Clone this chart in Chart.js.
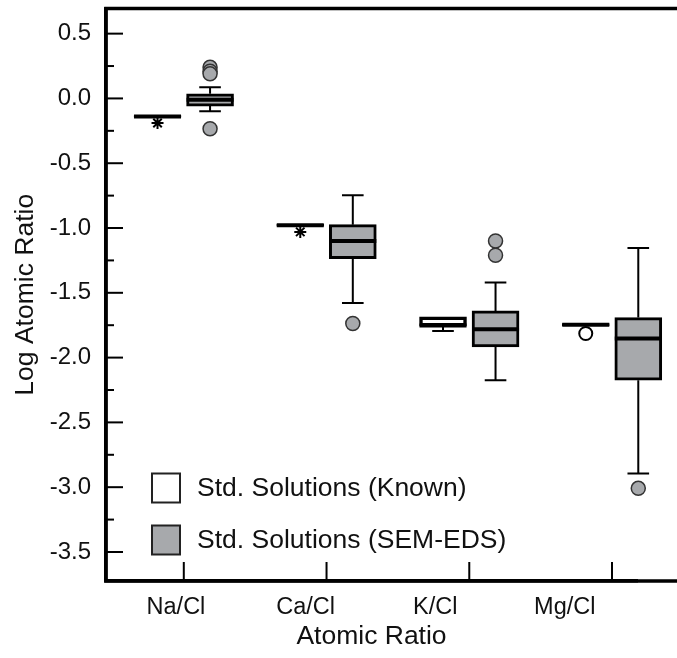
<!DOCTYPE html>
<html><head><meta charset="utf-8">
<script src="https://cdn.jsdelivr.net/npm/chart.js@4/dist/chart.umd.min.js"></script>
<style>html,body{margin:0;padding:0;background:#fff;overflow:hidden}</style>
</head><body>
<canvas id="c" width="677" height="658"></canvas>
<script>
// ---- data ----
const CATEGORIES = ['Na/Cl', 'Ca/Cl', 'K/Cl', 'Mg/Cl'];
const Y_TICKS = [-3.5, -3.0, -2.5, -2.0, -1.5, -1.0, -0.5, 0.0, 0.5];
const SERIES_NAMES = ['Std. Solutions (Known)', 'Std. Solutions (SEM-EDS)'];

// Std. Solutions (Known)
const KNOWN_Q1  = [-0.145, -0.985, -1.758, -1.754];
const KNOWN_Q3  = [-0.133, -0.972, -1.686, -1.738];
const KNOWN_MED = [-0.139, -0.979, -1.753, -1.746];
const KNOWN_WLO = [-0.145, -0.985, -1.794, -1.754];
const KNOWN_WHI = [-0.133, -0.972, -1.686, -1.738];
const KNOWN_STAR = [-0.19, -1.03, null, null];
const KNOWN_OPEN = [null, null, null, -1.814];

// Std. Solutions (SEM-EDS)
const SEM_Q1  = [-0.059, -1.236, -1.917, -2.174];
const SEM_Q3  = [0.036, -0.974, -1.640, -1.691];
const SEM_MED = [-0.010, -1.100, -1.781, -1.853];
const SEM_WLO = [-0.098, -1.578, -2.174, -2.894];
const SEM_WHI = [0.087, -0.748, -1.421, -1.154];
const SEM_OUT = [[0.24, 0.21, 0.19, -0.234], [-1.737], [-1.10, -1.21], [-3.009, -3.061]];

// ---- layout / style constants ----
const OFFSET = 0.184;           // half distance between paired boxes (x units)
const LABEL_X0 = 0.945, LABEL_DX = 0.908; // category label placement (x units)
const GRAY = '#a7a9ac';
const FONT = "'Liberation Sans', Arial, sans-serif";

Chart.defaults.font.family = FONT;
Chart.defaults.color = '#111';

const pos = (i, side) => i + 1 + side * OFFSET;

const knownBars = CATEGORIES.map((c, i) => ({x: pos(i, -1), y: [KNOWN_Q1[i], KNOWN_Q3[i]]}));
const semBars = CATEGORIES.map((c, i) => ({x: pos(i, 1), y: [SEM_Q1[i], SEM_Q3[i]]}));
const semOutPts = SEM_OUT.flatMap((arr, i) => arr.map(v => ({x: pos(i, 1), y: v})));
const knownStarPts = KNOWN_STAR.map((v, i) => v === null ? null : {x: pos(i, -1), y: v}).filter(Boolean);
const knownOpenPts = KNOWN_OPEN.map((v, i) => v === null ? null : {x: pos(i, -1), y: v}).filter(Boolean);

const STATS = [
  {med: KNOWN_MED, lo: KNOWN_WLO, hi: KNOWN_WHI, q1: KNOWN_Q1, q3: KNOWN_Q3},
  {med: SEM_MED, lo: SEM_WLO, hi: SEM_WHI, q1: SEM_Q1, q3: SEM_Q3}
];

const boxPlugin = {
  id: 'boxDecor',
  afterDatasetsDraw(chart) {
    const {ctx, scales: {y}} = chart;
    ctx.save();
    ctx.strokeStyle = '#000';
    ctx.lineCap = 'butt';
    [0, 1].forEach(d => {
      const meta = chart.getDatasetMeta(d);
      const s = STATS[d];
      meta.data.forEach((bar, i) => {
        const cx = bar.x, hw = bar.width / 2, cap = bar.width * 0.23;
        const yTop = y.getPixelForValue(s.q3[i]);
        const yBot = y.getPixelForValue(s.q1[i]);
        ctx.lineWidth = 2;
        if (s.hi[i] > s.q3[i]) {
          const yh = y.getPixelForValue(s.hi[i]);
          ctx.beginPath(); ctx.moveTo(cx, yTop); ctx.lineTo(cx, yh);
          ctx.moveTo(cx - cap, yh); ctx.lineTo(cx + cap, yh); ctx.stroke();
        }
        if (s.lo[i] < s.q1[i]) {
          const yl = y.getPixelForValue(s.lo[i]);
          ctx.beginPath(); ctx.moveTo(cx, yBot); ctx.lineTo(cx, yl);
          ctx.moveTo(cx - cap, yl); ctx.lineTo(cx + cap, yl); ctx.stroke();
        }
        ctx.lineWidth = 4;
        const ym = y.getPixelForValue(s.med[i]);
        ctx.beginPath(); ctx.moveTo(cx - hw, ym); ctx.lineTo(cx + hw, ym); ctx.stroke();
      });
    });
    ctx.restore();
  },
  afterDraw(chart) {
    const {ctx, chartArea: a, scales: {x, y}, width} = chart;
    ctx.save();
    ctx.strokeStyle = '#000';
    // frame (top and bottom run to the right edge)
    ctx.lineWidth = 3.5;
    ctx.beginPath();
    ctx.moveTo(a.left - 1.75, a.top); ctx.lineTo(width, a.top);
    ctx.moveTo(a.left - 1.75, a.bottom); ctx.lineTo(width, a.bottom);
    ctx.moveTo(a.left, a.top - 1.75); ctx.lineTo(a.left, a.bottom + 1.75);
    ctx.stroke();
    // inward y ticks: major + minor
    ctx.lineWidth = 2;
    Y_TICKS.forEach(v => {
      const py = y.getPixelForValue(v);
      ctx.beginPath(); ctx.moveTo(a.left, py); ctx.lineTo(a.left + 17, py); ctx.stroke();
    });
    const minors = [Y_TICKS[0] - 0.25].concat(Y_TICKS.map(v => v + 0.25));
    minors.forEach(mv => {
      if (mv > y.min && mv < y.max) {
        const pm = y.getPixelForValue(mv);
        ctx.beginPath(); ctx.moveTo(a.left, pm); ctx.lineTo(a.left + 8, pm); ctx.stroke();
      }
    });
    // inward x ticks at group centres
    CATEGORIES.forEach((c, i) => {
      const px = x.getPixelForValue(i + 1);
      ctx.beginPath(); ctx.moveTo(px, a.bottom); ctx.lineTo(px, a.bottom - 19); ctx.stroke();
    });
    // legend
    const lx = a.left + 46, ly = [a.top + 465, a.top + 517];
    const fills = ['#ffffff', GRAY];
    ctx.font = '26.5px ' + FONT;
    ctx.textBaseline = 'middle';
    chart.data.datasets.slice(0, 2).forEach((ds, k) => {
      ctx.fillStyle = fills[k];
      ctx.fillRect(lx, ly[k], 28, 29);
      ctx.lineWidth = 2;
      ctx.strokeStyle = '#222';
      ctx.strokeRect(lx, ly[k], 28, 29);
      ctx.fillStyle = '#111';
      ctx.fillText(ds.label, lx + 45, ly[k] + 15);
    });
    ctx.restore();
  }
};

new Chart(document.getElementById('c'), {
  type: 'bar',
  data: {
    datasets: [
      {label: SERIES_NAMES[0], data: knownBars, backgroundColor: '#ffffff', borderColor: '#000',
       borderWidth: 3.5, borderSkipped: false, grouped: false, barThickness: 47, clip: false, order: 0},
      {label: SERIES_NAMES[1], data: semBars, backgroundColor: GRAY, borderColor: '#000',
       borderWidth: 3, borderSkipped: false, grouped: false, barThickness: 47, clip: false, order: 0},
      {type: 'scatter', label: 'SEM outliers', data: semOutPts, backgroundColor: GRAY,
       borderColor: '#333', borderWidth: 1.5, pointRadius: 7, clip: false, order: 1},
      {type: 'scatter', label: 'Known stars', data: knownStarPts, pointStyle: 'star',
       borderColor: '#000', backgroundColor: '#000', borderWidth: 2, pointRadius: 6, clip: false, order: 1},
      {type: 'scatter', label: 'Known open', data: knownOpenPts, pointStyle: 'circle',
       borderColor: '#000', backgroundColor: '#fff', borderWidth: 2, pointRadius: 6.5, clip: false, order: 1}
    ]
  },
  options: {
    responsive: false,
    animation: false,
    layout: {padding: {top: 8, left: 0, right: 40, bottom: 0}},
    plugins: {legend: {display: false}, tooltip: {enabled: false}},
    scales: {
      x: {
        type: 'linear', min: 0.455, max: 4.175, offset: false,
        afterBuildTicks: s => { s.ticks = CATEGORIES.map((c, i) => ({value: LABEL_X0 + i * LABEL_DX})); },
        afterFit: s => { s.height = 77; s.paddingLeft = 0; s.paddingRight = 0; },
        grid: {display: false, drawTicks: false, offset: false},
        border: {display: true, color: '#000', width: 3.5},
        ticks: {callback: (v, i) => CATEGORIES[i], autoSkip: false, maxRotation: 0,
                padding: 12, font: {size: 23.5}, color: '#111'},
        title: {display: true, text: 'Atomic Ratio', font: {size: 26.5}, color: '#111',
                padding: {top: 0, bottom: 5}}
      },
      y: {
        type: 'linear', min: -3.724, max: 0.694,
        afterBuildTicks: s => { s.ticks = Y_TICKS.map(v => ({value: v})); },
        afterFit: s => { s.width = 106; s.paddingTop = 0; s.paddingBottom = 0; },
        grid: {display: false, drawTicks: false},
        border: {display: true, color: '#000', width: 3.5},
        ticks: {callback: v => v.toFixed(1), padding: 15, font: {size: 24}, color: '#111'},
        title: {display: true, text: 'Log Atomic Ratio', font: {size: 26.5}, color: '#111',
                padding: {top: 10, bottom: 0}}
      }
    }
  },
  plugins: [boxPlugin]
});
</script>
</body></html>
